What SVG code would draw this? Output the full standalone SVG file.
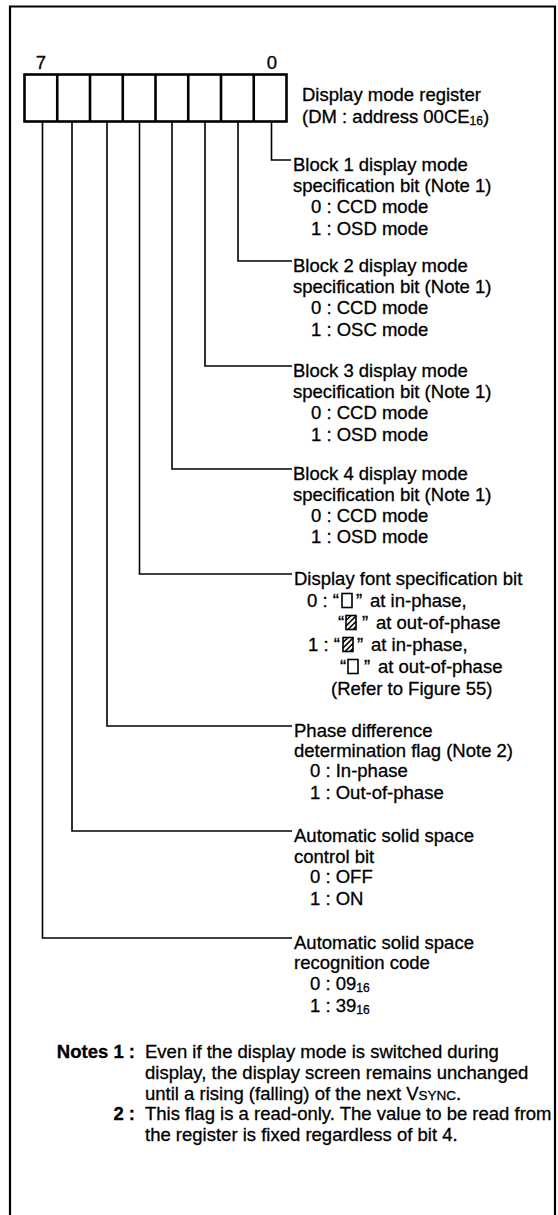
<svg xmlns="http://www.w3.org/2000/svg" xmlns:xlink="http://www.w3.org/1999/xlink" width="558" height="1215" viewBox="0 0 558 1215">
<defs>
<style>
text{font-family:"Liberation Sans",Arial,Helvetica,sans-serif;font-size:18.5px;fill:#000;stroke:#000;stroke-width:0.3px}
.b{font-weight:bold}
.sub{font-size:12px}
.sc{font-size:13.5px}
.frame{fill:none;stroke:#000;stroke-width:2.2}
.reg{fill:none;stroke:#000;stroke-width:2.6}
.conn{fill:none;stroke:#000;stroke-width:1.6}
.box{fill:#fff;stroke:#000;stroke-width:1.6}
.hatch{fill:none;stroke:#000;stroke-width:1.6}
</style>
<g id="hbox">
<rect class="box" x="0" y="0" width="10" height="14"/>
<path class="hatch" d="M0,5 L5,0 M0,10.5 L10,0.5 M2,14 L10,6 M7,14 L10,11"/>
</g>
<g id="wbox">
<rect class="box" x="0" y="0" width="10" height="14"/>
</g>
</defs>
<rect x="0" y="0" width="558" height="1215" fill="#fff"/>
<g id="frame">
<path class="frame" d="M10,1215 V6.5 H555 V1215"/>
</g>
<g id="register">
<rect class="reg" x="24.5" y="74.5" width="262" height="47"/>
<path class="reg" d="M57.25,74.5V121.5 M90,74.5V121.5 M122.75,74.5V121.5 M155.5,74.5V121.5 M188.25,74.5V121.5 M221,74.5V121.5 M253.75,74.5V121.5"/>
<text x="41" y="69" text-anchor="middle">7</text>
<text x="272" y="69" text-anchor="middle">0</text>
<text x="302" y="101">Display mode register</text>
<text x="302" y="123">(DM : address 00CE<tspan class="sub" dy="2">16</tspan><tspan dy="-2">)</tspan></text>
</g>
<g id="connectors">
<path class="conn" d="M271.5,121.5 V160 H291"/>
<path class="conn" d="M238,121.5 V261 H292"/>
<path class="conn" d="M205,121.5 V366 H292"/>
<path class="conn" d="M172,121.5 V469 H292"/>
<path class="conn" d="M139.5,121.5 V574 H292"/>
<path class="conn" d="M107,121.5 V726 H292"/>
<path class="conn" d="M72,121.5 V831 H292"/>
<path class="conn" d="M42.5,121.5 V938 H292"/>
</g>
<g id="bit0">
<text x="293" y="171">Block 1 display mode</text>
<text x="293" y="192">specification bit (Note 1)</text>
<text x="311" y="213">0 : CCD mode</text>
<text x="311" y="235">1 : OSD mode</text>
</g>
<g id="bit1">
<text x="293" y="272">Block 2 display mode</text>
<text x="293" y="293">specification bit (Note 1)</text>
<text x="311" y="314">0 : CCD mode</text>
<text x="311" y="336">1 : OSC mode</text>
</g>
<g id="bit2">
<text x="293" y="377">Block 3 display mode</text>
<text x="293" y="398">specification bit (Note 1)</text>
<text x="311" y="419">0 : CCD mode</text>
<text x="311" y="441">1 : OSD mode</text>
</g>
<g id="bit3">
<text x="293" y="480">Block 4 display mode</text>
<text x="293" y="501">specification bit (Note 1)</text>
<text x="311" y="522">0 : CCD mode</text>
<text x="311" y="543">1 : OSD mode</text>
</g>
<g id="bit4">
<text x="294" y="585">Display font specification bit</text>
<text y="607"><tspan x="307">0 : “</tspan><tspan x="356">”</tspan><tspan x="370">at in-phase,</tspan></text>
<use xlink:href="#wbox" x="342" y="593.5"/>
<text y="629"><tspan x="338">“</tspan><tspan x="362">”</tspan><tspan x="376">at out-of-phase</tspan></text>
<use xlink:href="#hbox" x="346" y="615.5"/>
<text y="651"><tspan x="308">1 : “</tspan><tspan x="357">”</tspan><tspan x="371">at in-phase,</tspan></text>
<use xlink:href="#hbox" x="343" y="637.5"/>
<text y="673"><tspan x="340">“</tspan><tspan x="364">”</tspan><tspan x="378">at out-of-phase</tspan></text>
<use xlink:href="#wbox" x="348" y="659.5"/>
<text x="331" y="695">(Refer to Figure 55)</text>
</g>
<g id="bit5">
<text x="294" y="737">Phase difference</text>
<text x="294" y="757">determination flag (Note 2)</text>
<text x="310" y="777">0 : In-phase</text>
<text x="310" y="799">1 : Out-of-phase</text>
</g>
<g id="bit6">
<text x="294" y="842">Automatic solid space</text>
<text x="294" y="863">control bit</text>
<text x="310" y="883">0 : OFF</text>
<text x="310" y="905">1 : ON</text>
</g>
<g id="bit7">
<text x="294" y="949">Automatic solid space</text>
<text x="294" y="969">recognition code</text>
<text x="310" y="990">0 : 09<tspan class="sub" dy="2">16</tspan></text>
<text x="310" y="1012">1 : 39<tspan class="sub" dy="2">16</tspan></text>
</g>
<g id="notes">
<text class="b" x="135" y="1058" text-anchor="end">Notes 1 :</text>
<text x="145" y="1058">Even if the display mode is switched during</text>
<text x="145" y="1079">display, the display screen remains unchanged</text>
<text x="145" y="1099.5">until a rising (falling) of the next V<tspan class="sc">SYNC</tspan>.</text>
<text class="b" x="135" y="1120" text-anchor="end">2 :</text>
<text x="145" y="1120">This flag is a read-only. The value to be read from</text>
<text x="145" y="1140.5">the register is fixed regardless of bit 4.</text>
</g>
</svg>
